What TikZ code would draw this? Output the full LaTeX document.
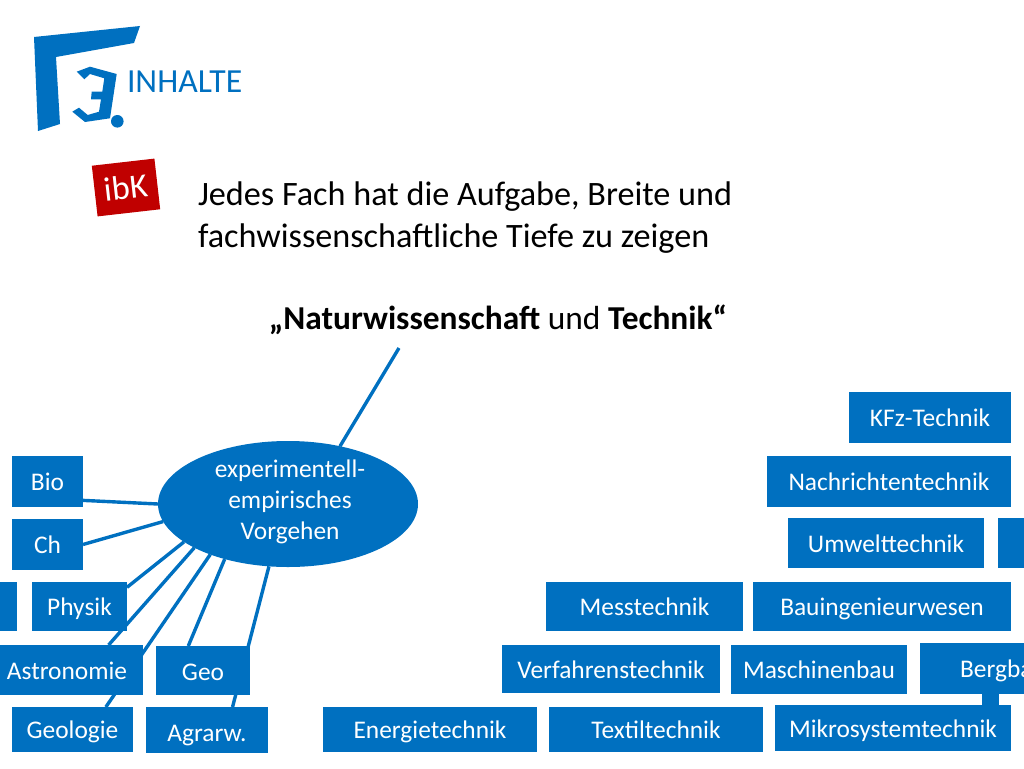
\documentclass[tikz,border=0pt]{standalone}
\usepackage{fontspec}
\setmainfont{Carlito}
\usetikzlibrary{shapes.geometric}
\usetikzlibrary{backgrounds}
\definecolor{hsblue}{HTML}{0070C0}
\definecolor{hsred}{HTML}{C00000}
\tikzset{
        every node/.style={inner sep=0pt,outer sep=0pt,align=center},
        fachbox/.style={fill=hsblue,text=white,text height=19pt,text depth=1pt,font=\fontsize{25.4}{30}\selectfont},
        fachline/.style={draw=hsblue,line width=3.4pt},
        }

\begin{document}
\begin{tikzpicture}[x=1pt,y=-1pt]

		\useasboundingbox (0,0) rectangle (1024,768);
		\clip (0,0) rectangle (1024,768);

		% logo.....................
		\fill [hsblue] (34,37) -- (140,26) -- (134,43) -- (56,57) -- (60,124) -- (38,131) -- cycle;
		\fill [hsblue] (76.7,71.7) -- (90,66.7) -- (116.7,74) -- (110,118.3) -- (85,122) -- (72.3,111.7) -- (79,107.7) -- (87.7,115) -- (99,111.7) -- (101,99.3) -- (91,99.3) -- (91.7,91.7) -- (102.3,91.7) -- (104.3,78.3) -- (90,74) -- (84.3,79.3) -- cycle;
		\fill [hsblue] (117.3,121.3) circle (6.3);
		\node (inhalte) [anchor=base west,text=hsblue,font=\fontsize{33.7}{40}\selectfont] at (127,92) {INHALTE};

		% ibK tag....................
		\node (ibk) [rotate=6.5,fill=hsred,text=white,minimum width=63pt,minimum height=51pt,font=\fontsize{34}{40}\selectfont] at (126,187.5) {ibK};

		% headline..................
		\node (aufgabe) [anchor=base west,align=left,font=\fontsize{34.2}{42}\selectfont] at (198,247) {Jedes Fach hat die Aufgabe, Breite und\\fachwissenschaftliche Tiefe zu zeigen};
		\node (thema) [anchor=base,font=\fontsize{33.4}{40}\selectfont] at (498,329) {\textbf{„Naturwissenschaft} und \textbf{Technik“}};

		% ellipse....................
		\node (vorgehen) [ellipse,fill=hsblue,minimum width=260pt,minimum height=126pt] at (288,504) {};
		\node (vorgehentext) [text=white,font=\fontsize{25.4}{31}\selectfont] at (290,502) {experimentell-\\empirisches\\Vorgehen};
		\coordinate (themaend) at (399,348);

		% left boxes.................
		\node (bio) [fachbox,minimum width=71pt,minimum height=51pt] at (47.5,481.5) {Bio};
		\node (ch) [fachbox,minimum width=71pt,minimum height=51pt] at (47.5,544.5) {Ch};
		\node (leer) [fachbox,minimum width=60pt,minimum height=49pt] at (-13,606.5) {};
		\node (physik) [fachbox,minimum width=95pt,minimum height=49pt] at (79.5,606.5) {Physik};
		\node (astronomie) [fachbox,minimum width=152pt,minimum height=50pt] at (67,670) {Astronomie};
		\node (geo) [fachbox,minimum width=94pt,minimum height=49pt,text height=21pt] at (203,670.5) {Geo};
		\node (geologie) [fachbox,minimum width=121pt,minimum height=45pt] at (72.5,729.5) {Geologie};
		\node (agrarw) [fachbox,minimum width=122pt,minimum height=46pt,text height=23pt] at (207,730) {Agrarw.};

		% right boxes................
		\node (energie) [fachbox,minimum width=214pt,minimum height=45pt] at (430,729.5) {Energietechnik};
		\node (textil) [fachbox,minimum width=214pt,minimum height=45pt] at (656,729.5) {Textiltechnik};
		\node (verfahren) [fachbox,minimum width=218pt,minimum height=48pt] at (611,669) {Verfahrenstechnik};
		\node (maschinen) [fachbox,minimum width=176pt,minimum height=49pt] at (819,669.5) {Maschinenbau};
		\node (mess) [fachbox,minimum width=197pt,minimum height=49pt] at (644.5,606.5) {Messtechnik};
		\node (bau) [fachbox,minimum width=258pt,minimum height=49pt] at (882,606.5) {Bauingenieurwesen};
		\node (umwelt) [fachbox,minimum width=196pt,minimum height=50pt] at (886,543) {Umwelttechnik};
		\node (rest) [fachbox,minimum width=60pt,minimum height=50pt] at (1028,543) {};
		\node (nachrichten) [fachbox,minimum width=244pt,minimum height=51pt] at (889,481.5) {Nachrichtentechnik};
		\node (kfz) [fachbox,minimum width=162pt,minimum height=51pt] at (930,417.5) {KFz-Technik};
		\node (bergbau) [fachbox,minimum width=166pt,minimum height=51pt] at (1003,668.5) {Bergbau};
		\node (mikro) [fachbox,minimum width=236pt,minimum height=46pt] at (893,728) {Mikrosystemtechnik};
		\coordinate (stub) at (990.5,700);

		% lines behind the boxes.....
		\begin{scope}[on background layer]
		\draw [fachline] (vorgehen.48.6) -- (themaend);
		\draw [fachline] (vorgehen.180) -- (bio.-28);
		\draw [fachline] (vorgehen.188.8) -- (ch.east);
		\draw [fachline] (vorgehen.200.7) -- (physik.22);
		\draw [fachline] (vorgehen.205.3) -- (astronomie.31.4);
		\draw [fachline] (vorgehen.213.5) -- (geologie.34.7);
		\draw [fachline] (vorgehen.221.2) -- (geo.121);
		\draw [fachline] (vorgehen.253.8) -- (agrarw.42.6);
		\draw [fachline,line width=17pt] (stub |- bergbau.south) -- (stub |- mikro.north);
		\end{scope}

	\end{tikzpicture}
\end{document}
